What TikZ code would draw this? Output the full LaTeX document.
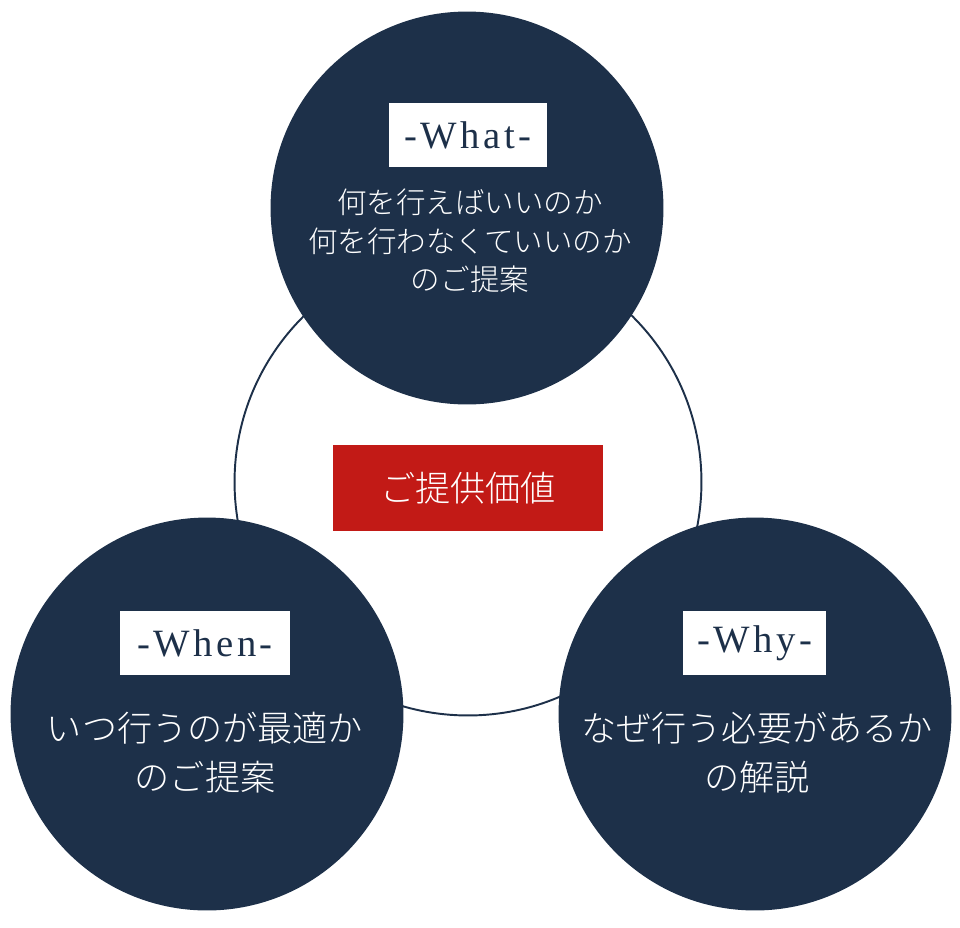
\documentclass[tikz,border=0pt]{standalone}
\usepackage{fontspec}
\setmainfont{Liberation Serif}
\newfontfamily\jpfont{Noto Sans CJK JP}[UprightFont=* Light]
\usepackage{tikz}
\usetikzlibrary{positioning}
\definecolor{navy}{HTML}{1D3049}
\definecolor{valuered}{HTML}{C21A16}

\begin{document}
\begin{tikzpicture}[x=0.02cm,y=-0.02cm,
    ring/.style={circle,draw=navy,line width=1.1pt,minimum size=9.34cm,inner sep=0pt},
    disc/.style={circle,fill=navy,minimum size=7.86cm,inner sep=0pt},
    tag/.style={fill=white,text=navy,minimum height=1.28cm,inner sep=0pt,
        font=\fontsize{22}{26}\selectfont\addfontfeature{LetterSpace=9}},
    small/.style={text=white,align=center,font=\jpfont\fontsize{16.8}{21.8}\selectfont},
    big/.style={text=white,align=center,font=\jpfont\fontsize{20}{27.8}\selectfont}]
        \useasboundingbox (0,0) rectangle (960,927);
        \node[ring] (ring) at (468,482) {};
        \node[disc] (what) at (467,208) {};
        \node[disc] (when) at (207,714) {};
        \node[disc] (why) at (755,714) {};
        % center
        \node[fill=valuered,minimum width=5.4cm,minimum height=1.72cm,text=white,
            font=\jpfont\fontsize{20}{24}\selectfont] (value) at (468,488) {ご提供価値};
        % tags
        \node[tag,minimum width=3.16cm] (whattag) at (468,135) {-What-};
        \node[tag,minimum width=3.4cm] (whentag) at (205,643) {-When-};
        \node[tag,minimum width=2.86cm] (whytag) at (754.5,643) {-Why-};
        % texts
        \node[small] (whattext) at (470,241) {何を行えばいいのか\\何を行わなくていいのか\\のご提案};
        \node[big] (whentext) at (205,753) {いつ行うのが最適か\\のご提案};
        \node[big] (whytext) at (757,753) {なぜ行う必要があるか\\の解説};
    \end{tikzpicture}
\end{document}
